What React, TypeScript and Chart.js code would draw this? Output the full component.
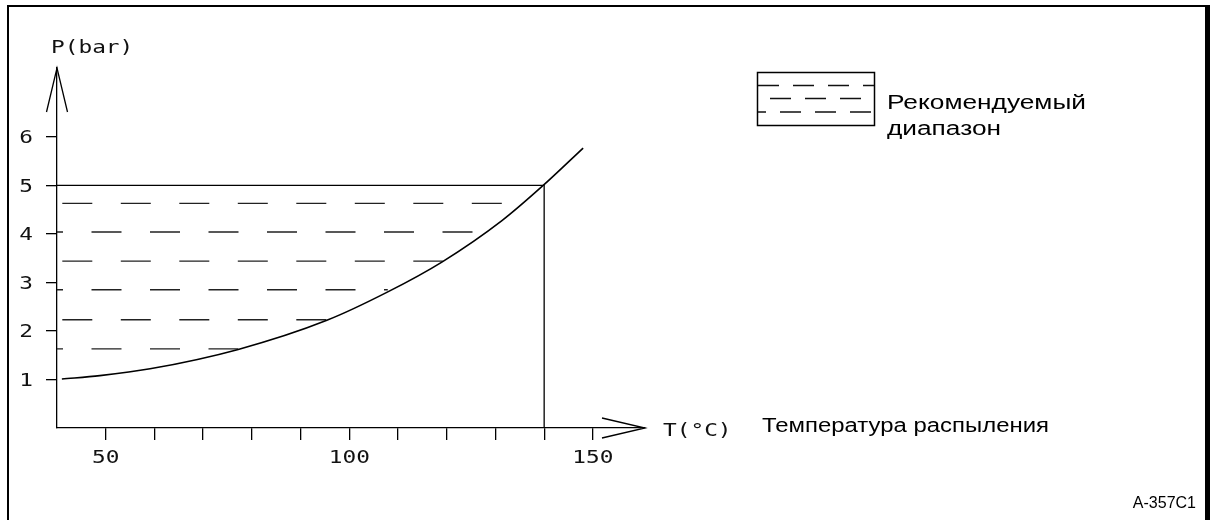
import React, { useEffect, useRef } from 'react';
import { Chart, registerables } from 'chart.js';

Chart.register(...registerables);

// ---- axis ranges and ticks ----
const X_MIN = 40;
const X_MAX = 160.7;
const Y_MIN = 0;
const Y_MAX = 7.42;
const xTickValues = [50, 60, 70, 80, 90, 100, 110, 120, 130, 140, 150];
const xTickLabels = ['50', '', '', '', '', '100', '', '', '', '', '150'];
const yTickValues = [1, 2, 3, 4, 5, 6];
const yTickLabels = ['1', '2', '3', '4', '5', '6'];

// ---- curve (T in °C, P in bar) ----
const curveT = [41, 48.8, 59.1, 77.2, 95.4, 107.8, 119, 131.4, 139.8, 148];
const curveP = [1.01, 1.08, 1.22, 1.62, 2.22, 2.8, 3.42, 4.28, 5.0, 5.77];

// ---- recommended range boundary ----
const boundT = [40, 140, 140];
const boundP = [5, 5, 0];

// ---- hatch rows of the recommended range ----
const hatchP = [4.63, 4.04, 3.44, 2.85, 2.23, 1.63];
const hatchStartT = [40, 40, 40, 40, 40, 40];
const hatchEndT = [134, 126, 119.2, 107.9, 95.6, 77.2];

// ---- texts ----
const yTitle = 'P(bar)';
const xTitle = 'T(°C)';
const xCaption = 'Температура распыления';
const legendLines = ['Рекомендуемый', 'диапазон'];
const figureId = 'A-357C1';

const MONO = '17px "DejaVu Sans Mono"';
const MONO_SX = 1.34;
const SANS = '20px "Liberation Sans"';

function drawText(
  ctx: CanvasRenderingContext2D,
  text: string,
  x: number,
  y: number,
  font: string,
  sx: number,
  align: 'left' | 'center' | 'right'
) {
  ctx.save();
  ctx.font = font;
  ctx.textBaseline = 'alphabetic';
  ctx.textAlign = 'left';
  const w = ctx.measureText(text).width * sx;
  let left = x;
  if (align === 'center') left = x - w / 2;
  else if (align === 'right') left = x - w;
  ctx.translate(left, y);
  ctx.scale(sx, 1);
  ctx.fillText(text, 0, 0);
  ctx.restore();
}

function fitScale(ctx: CanvasRenderingContext2D, text: string, font: string, target: number) {
  ctx.save();
  ctx.font = font;
  const w = ctx.measureText(text).width;
  ctx.restore();
  return target / w;
}

const decor = {
  id: 'decor',
  afterDraw(chart: any) {
    const ctx: CanvasRenderingContext2D = chart.ctx;
    const { left, right, top, bottom } = chart.chartArea;
    const xs = chart.scales.x;
    const ys = chart.scales.y;
    ctx.save();
    ctx.fillStyle = '#000';
    ctx.strokeStyle = '#000';

    // frame
    ctx.fillRect(7, 5, 1203, 2);
    ctx.fillRect(7, 5, 2, 515);
    ctx.fillRect(1205, 5, 5, 515);

    // axis arrows
    ctx.lineWidth = 1.3;
    ctx.beginPath();
    ctx.moveTo(left - 10.5, top + 44);
    ctx.lineTo(left, top);
    ctx.lineTo(left + 10.5, top + 44);
    ctx.moveTo(right - 43, bottom - 10);
    ctx.lineTo(right, bottom);
    ctx.lineTo(right - 43, bottom + 10);
    ctx.stroke();

    // tick labels (mono, wide)
    ctx.fillStyle = '#111';
    xTickValues.forEach((v, i) => {
      const lab = xTickLabels[i];
      if (!lab) return;
      drawText(ctx, lab, xs.getPixelForValue(v), 462.5, MONO, MONO_SX, 'center');
    });
    yTickValues.forEach((v, i) => {
      drawText(ctx, yTickLabels[i], 33, ys.getPixelForValue(v) + 6.2, MONO, MONO_SX, 'right');
    });

    // axis titles
    drawText(ctx, yTitle, 51, 53, MONO, MONO_SX, 'left');
    drawText(ctx, xTitle, 663, 436, MONO, MONO_SX, 'left');

    // captions
    ctx.fillStyle = '#000';
    const sCap = fitScale(ctx, xCaption, SANS, 287);
    drawText(ctx, xCaption, 762, 432, SANS, sCap, 'left');
    const sLeg = fitScale(ctx, legendLines[0], SANS, 199);
    drawText(ctx, legendLines[0], 887, 108.5, SANS, sLeg, 'left');
    drawText(ctx, legendLines[1], 887, 135, SANS, sLeg, 'left');
    drawText(ctx, figureId, 1196, 507.5, '16px "Liberation Sans"', 1, 'right');

    // legend swatch
    ctx.lineWidth = 1.5;
    ctx.strokeRect(757.5, 72.5, 117, 53);
    ctx.lineWidth = 1.5;
    ctx.strokeStyle = '#111';
    const rows = [
      { y: 85.5, off: 0 },
      { y: 98.5, off: 23 },
      { y: 112, off: 13 },
    ];
    rows.forEach((r) => {
      ctx.setLineDash([21, 14]);
      ctx.lineDashOffset = r.off;
      ctx.beginPath();
      ctx.moveTo(758, r.y);
      ctx.lineTo(874, r.y);
      ctx.stroke();
    });
    ctx.setLineDash([]);
    ctx.restore();
  },
};

export default function App() {
  const ref = useRef<HTMLCanvasElement | null>(null);

  useEffect(() => {
    document.body.style.margin = '0';
    const canvas = ref.current;
    if (!canvas) return;

    const hatchSets = hatchP.map((p, i) => ({
      label: 'hatch' + i,
      data: [
        { x: hatchStartT[i], y: p },
        { x: hatchEndT[i], y: p },
      ],
      borderColor: '#222',
      borderWidth: 1.4,
      borderDash: [30, 28.5],
      borderDashOffset: i % 2 === 0 ? 53.2 : 24,
      pointRadius: 0,
      fill: false,
      order: 3,
    }));

    const chart = new Chart(canvas, {
      type: 'line',
      data: {
        datasets: [
          ...hatchSets,
          {
            label: 'range',
            data: boundT.map((t, i) => ({ x: t, y: boundP[i] })),
            borderColor: '#000',
            borderWidth: 1.3,
            pointRadius: 0,
            fill: false,
            tension: 0,
            order: 2,
          },
          {
            label: 'curve',
            data: curveT.map((t, i) => ({ x: t, y: curveP[i] })),
            borderColor: '#000',
            borderWidth: 1.6,
            pointRadius: 0,
            fill: false,
            cubicInterpolationMode: 'monotone',
            order: 1,
          },
        ] as any,
      },
      options: {
        animation: false,
        responsive: false,
        maintainAspectRatio: false,
        events: [],
        layout: { padding: { left: 0, top: 68, right: 565, bottom: 52 } },
        plugins: {
          legend: { display: false },
          tooltip: { enabled: false },
        },
        scales: {
          x: {
            type: 'linear',
            position: 'bottom',
            min: X_MIN,
            max: X_MAX,
            afterBuildTicks: (s: any) => {
              s.ticks = xTickValues.map((v) => ({ value: v }));
            },
            afterFit: (s: any) => {
              s.height = 40;
            },
            grid: {
              drawOnChartArea: false,
              drawTicks: true,
              tickLength: 12,
              color: '#000',
              lineWidth: 1.3,
            },
            border: { display: true, color: '#000', width: 1.3 },
            ticks: { display: false },
          },
          y: {
            type: 'linear',
            position: 'left',
            min: Y_MIN,
            max: Y_MAX,
            afterBuildTicks: (s: any) => {
              s.ticks = yTickValues.map((v) => ({ value: v }));
            },
            afterFit: (s: any) => {
              s.width = 57;
            },
            grid: {
              drawOnChartArea: false,
              drawTicks: true,
              tickLength: 11,
              color: '#000',
              lineWidth: 1.3,
            },
            border: { display: true, color: '#000', width: 1.3 },
            ticks: { display: false },
          },
        },
      } as any,
      plugins: [decor],
    });

    return () => {
      chart.destroy();
    };
  }, []);

  return (
    <div style={{ width: 1210, height: 520, position: 'relative', background: '#fff' }}>
      <canvas ref={ref} width={1210} height={520} style={{ display: 'block', width: 1210, height: 520 }} />
    </div>
  );
}
